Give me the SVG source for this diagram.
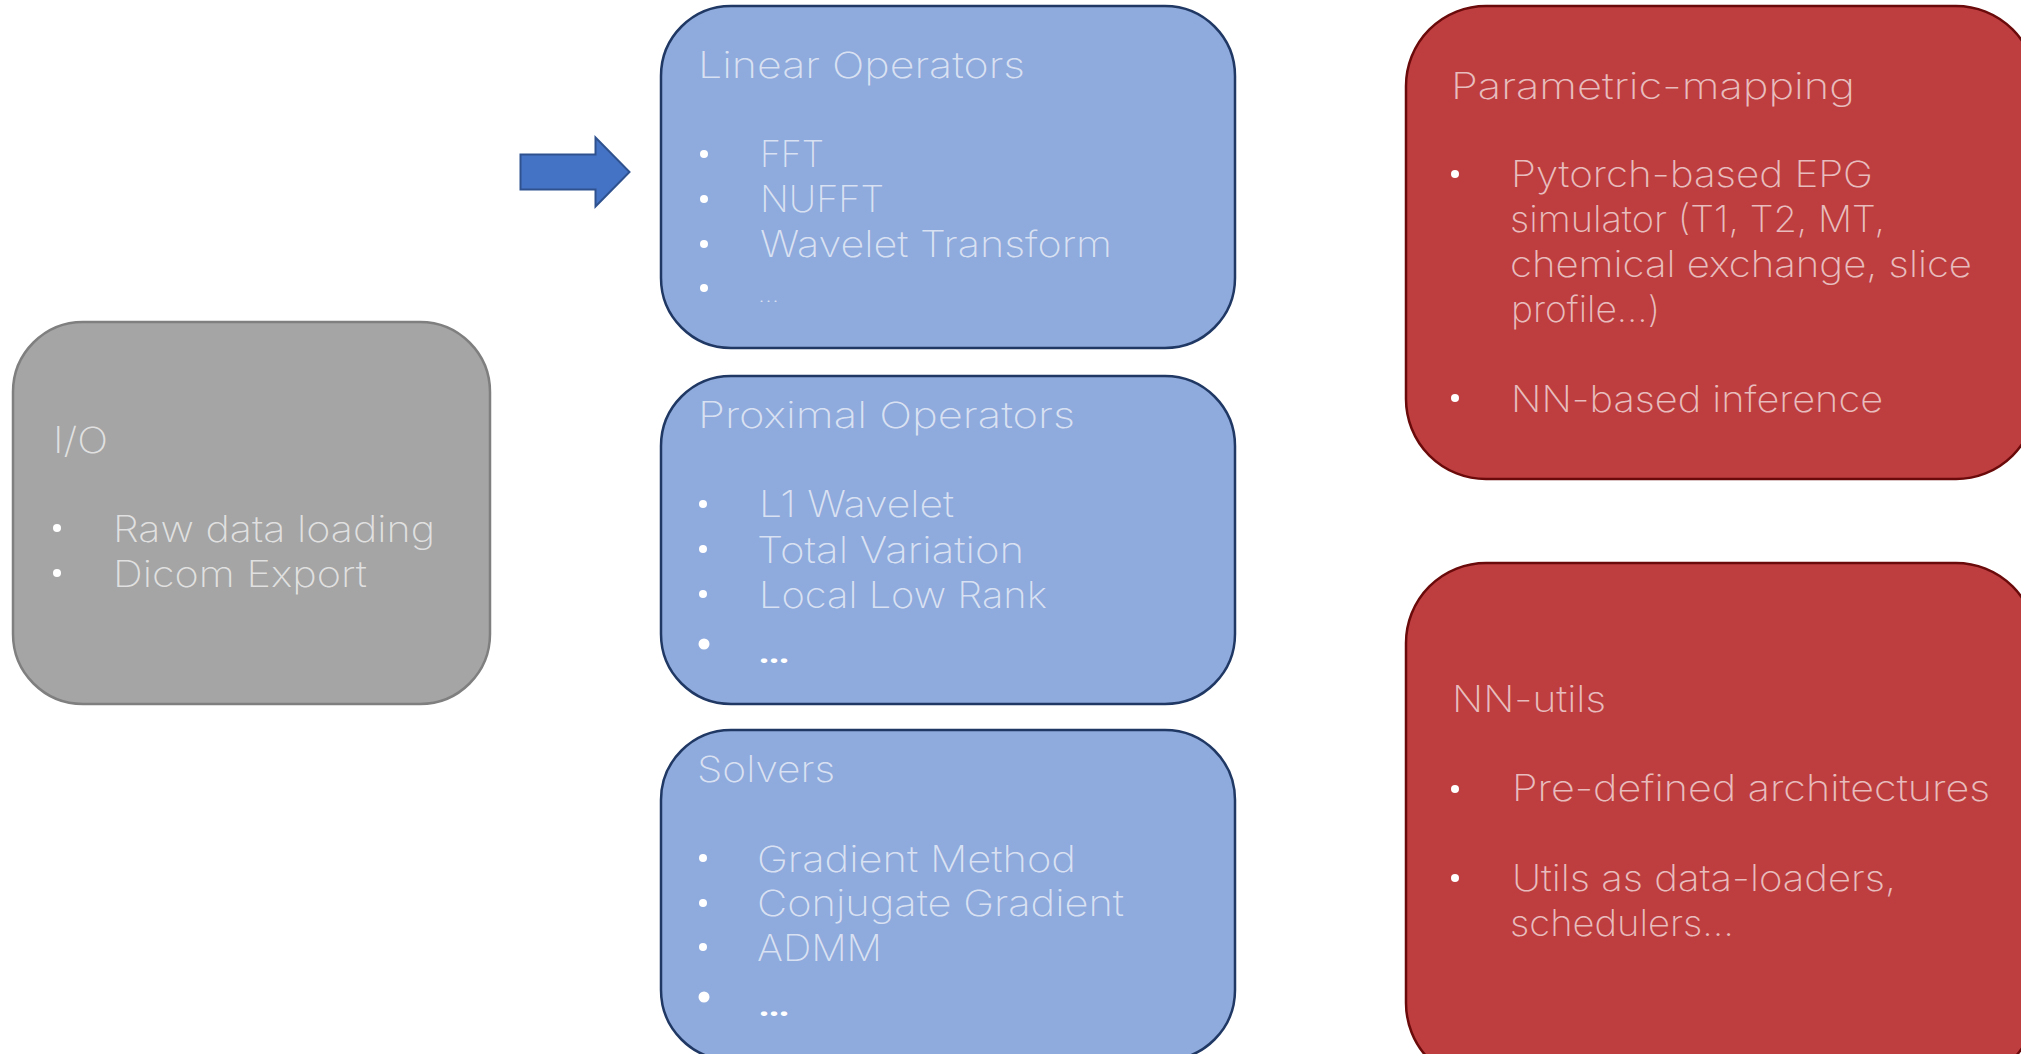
<svg xmlns="http://www.w3.org/2000/svg" width="2021" height="1054" viewBox="0 0 2021 1054">
<style>
.t{font-family:Inter,Lato,"Open Sans","Liberation Sans",sans-serif;font-weight:200;font-size:36px;fill:#ffffff;fill-opacity:0.68}
.b{fill:#ffffff}
.gray{fill:#a5a5a5;stroke:#7f7f7f;stroke-width:2.5}
.blue{fill:#8faadc;stroke:#203864;stroke-width:2.5}
.red{fill:#be3e40;stroke:#6b0a0a;stroke-width:2.5}
.dots{font-family:Lato,"Liberation Sans",sans-serif;font-weight:700;font-size:30px;fill:#ffffff}
</style>
<g id="io">
<rect class="gray" x="13" y="322" width="477" height="382" rx="70" ry="70"/>
<text class="t" x="53" y="453" textLength="55" lengthAdjust="spacingAndGlyphs">I/O</text>
<circle class="b" cx="57" cy="528" r="4"/>
<text class="t" x="113" y="542" textLength="322" lengthAdjust="spacingAndGlyphs">Raw data loading</text>
<circle class="b" cx="57" cy="573" r="4"/>
<text class="t" x="113" y="587" textLength="254" lengthAdjust="spacingAndGlyphs">Dicom Export</text>
</g>
<g id="linear">
<rect class="blue" x="661" y="6" width="574" height="342" rx="70" ry="70"/>
<text class="t" x="698" y="78" textLength="327" lengthAdjust="spacingAndGlyphs">Linear Operators</text>
<circle class="b" cx="704" cy="154" r="4"/>
<text class="t" x="760" y="167" textLength="64" lengthAdjust="spacingAndGlyphs">FFT</text>
<circle class="b" cx="704" cy="199" r="4"/>
<text class="t" x="760" y="212" textLength="124" lengthAdjust="spacingAndGlyphs">NUFFT</text>
<circle class="b" cx="704" cy="244" r="4"/>
<text class="t" x="760" y="257" textLength="352" lengthAdjust="spacingAndGlyphs">Wavelet Transform</text>
<circle class="b" cx="704" cy="288" r="4"/>
<text class="t" x="758" y="302" style="font-size:20px" textLength="21" lengthAdjust="spacingAndGlyphs">...</text>
</g>
<g id="proximal">
<rect class="blue" x="661" y="376" width="574" height="328" rx="70" ry="70"/>
<text class="t" x="698" y="428" textLength="377" lengthAdjust="spacingAndGlyphs">Proximal Operators</text>
<circle class="b" cx="703" cy="504" r="4"/>
<text class="t" x="759" y="517" textLength="195" lengthAdjust="spacingAndGlyphs">L1 Wavelet</text>
<circle class="b" cx="703" cy="549" r="4"/>
<text class="t" x="757" y="563" textLength="267" lengthAdjust="spacingAndGlyphs">Total Variation</text>
<circle class="b" cx="703" cy="594" r="4"/>
<text class="t" x="759" y="608" textLength="288" lengthAdjust="spacingAndGlyphs">Local Low Rank</text>
<circle class="b" cx="704" cy="644" r="5.5"/>
<text class="dots" x="759" y="663" textLength="30" lengthAdjust="spacingAndGlyphs">...</text>
</g>
<g id="solvers">
<rect class="blue" x="661" y="730" width="574" height="330" rx="70" ry="70"/>
<text class="t" x="697" y="782" textLength="138" lengthAdjust="spacingAndGlyphs">Solvers</text>
<circle class="b" cx="703" cy="858" r="4"/>
<text class="t" x="757" y="872" textLength="319" lengthAdjust="spacingAndGlyphs">Gradient Method</text>
<circle class="b" cx="703" cy="903" r="4"/>
<text class="t" x="757" y="916" textLength="367" lengthAdjust="spacingAndGlyphs">Conjugate Gradient</text>
<circle class="b" cx="703" cy="947" r="4"/>
<text class="t" x="757" y="961" textLength="125" lengthAdjust="spacingAndGlyphs">ADMM</text>
<circle class="b" cx="704" cy="997" r="5.5"/>
<text class="dots" x="759" y="1016" textLength="30" lengthAdjust="spacingAndGlyphs">...</text>
</g>
<g id="parametric">
<rect class="red" x="1406" y="6" width="630" height="473" rx="80" ry="80"/>
<text class="t" x="1451" y="99" textLength="404" lengthAdjust="spacingAndGlyphs">Parametric-mapping</text>
<circle class="b" cx="1455" cy="174" r="4"/>
<text class="t" x="1511" y="187" textLength="362" lengthAdjust="spacingAndGlyphs">Pytorch-based EPG</text>
<text class="t" x="1510" y="232" textLength="375" lengthAdjust="spacingAndGlyphs">simulator (T1, T2, MT,</text>
<text class="t" x="1510" y="277" textLength="462" lengthAdjust="spacingAndGlyphs">chemical exchange, slice</text>
<text class="t" x="1511" y="322" textLength="149" lengthAdjust="spacingAndGlyphs">profile…)</text>
<circle class="b" cx="1455" cy="398" r="4"/>
<text class="t" x="1511" y="412" textLength="372" lengthAdjust="spacingAndGlyphs">NN-based inference</text>
</g>
<g id="nnutils">
<rect class="red" x="1406" y="563" width="630" height="520" rx="80" ry="80"/>
<text class="t" x="1452" y="712" textLength="154" lengthAdjust="spacingAndGlyphs">NN-utils</text>
<circle class="b" cx="1455" cy="789" r="4"/>
<text class="t" x="1512" y="801" textLength="478" lengthAdjust="spacingAndGlyphs">Pre-defined architectures</text>
<circle class="b" cx="1455" cy="878" r="4"/>
<text class="t" x="1512" y="891" textLength="384" lengthAdjust="spacingAndGlyphs">Utils as data-loaders,</text>
<text class="t" x="1510" y="936" textLength="224" lengthAdjust="spacingAndGlyphs">schedulers…</text>
</g>
<g id="connectors">
<path d="M520.5,154.5 H595.5 V137.5 L629.5,172 L595.5,206.5 V189.5 H520.5 Z" fill="#4472c4" stroke="#2f528f" stroke-width="2"/>
</g>
</svg>
